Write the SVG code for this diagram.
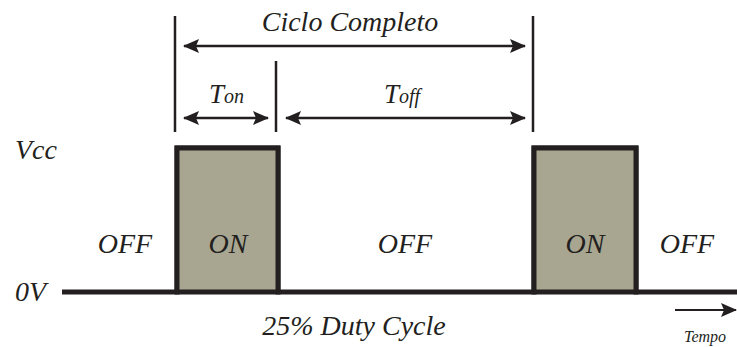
<svg xmlns="http://www.w3.org/2000/svg" width="737" height="347" viewBox="0 0 737 347">
<defs>
<marker id="ah" viewBox="0 0 16 14" refX="15" refY="7" markerWidth="16" markerHeight="14" orient="auto-start-reverse" markerUnits="userSpaceOnUse">
<path d="M0,0 L16,7 L0,14 L3,7 z" fill="#231f20"/>
</marker>
<style>
text{font-family:"Liberation Serif","Times New Roman",serif;font-style:italic;fill:#231f20}
.lbl{font-size:28px}
.ln{stroke:#231f20;stroke-width:2.5;fill:none}
.pulse{fill:#a8a690;stroke:#231f20;stroke-width:5}
</style>
</defs>
<rect width="737" height="347" fill="#fff"/>
<g id="signal">
<path d="M62,292 H177 V148 H278 V292 H534 V148 H636 V292 H737" fill="none" stroke="#231f20" stroke-width="5"/>
</g>
<g id="pulse1"><rect class="pulse" x="177" y="148" width="101" height="144"/><text class="lbl" x="228" y="253" text-anchor="middle">ON</text></g>
<g id="pulse2"><rect class="pulse" x="534" y="148" width="102" height="144"/><text class="lbl" x="585" y="253" text-anchor="middle">ON</text></g>
<g id="connectors">
<line class="ln" x1="175" y1="16" x2="175" y2="132"/>
<line class="ln" x1="276" y1="61" x2="276" y2="132"/>
<line class="ln" x1="533" y1="16" x2="533" y2="132"/>
<line x1="184" y1="46" x2="525" y2="46" stroke="#231f20" stroke-width="2.5" marker-start="url(#ah)" marker-end="url(#ah)"/>
<line x1="184" y1="118" x2="268" y2="118" stroke="#231f20" stroke-width="2.5" marker-start="url(#ah)" marker-end="url(#ah)"/>
<line x1="286" y1="118" x2="525" y2="118" stroke="#231f20" stroke-width="2.5" marker-start="url(#ah)" marker-end="url(#ah)"/>
<line x1="675" y1="310" x2="736" y2="310" stroke="#231f20" stroke-width="2" marker-end="url(#ah)"/>
</g>
<g id="labels">
<text class="lbl" x="350" y="31" text-anchor="middle">Ciclo Completo</text>
<text x="209" y="103" font-size="27">T<tspan font-size="20">on</tspan></text>
<text x="384" y="103" font-size="27">T<tspan font-size="20">off</tspan></text>
<text class="lbl" x="15" y="159">Vcc</text>
<text class="lbl" x="15" y="301">0V</text>
<text class="lbl" x="125" y="253" text-anchor="middle">OFF</text>
<text class="lbl" x="405" y="253" text-anchor="middle">OFF</text>
<text class="lbl" x="687" y="253" text-anchor="middle">OFF</text>
<text class="lbl" x="354" y="335" text-anchor="middle">25% Duty Cycle</text>
<text x="705" y="342" font-size="16" text-anchor="middle">Tempo</text>
</g>
</svg>
